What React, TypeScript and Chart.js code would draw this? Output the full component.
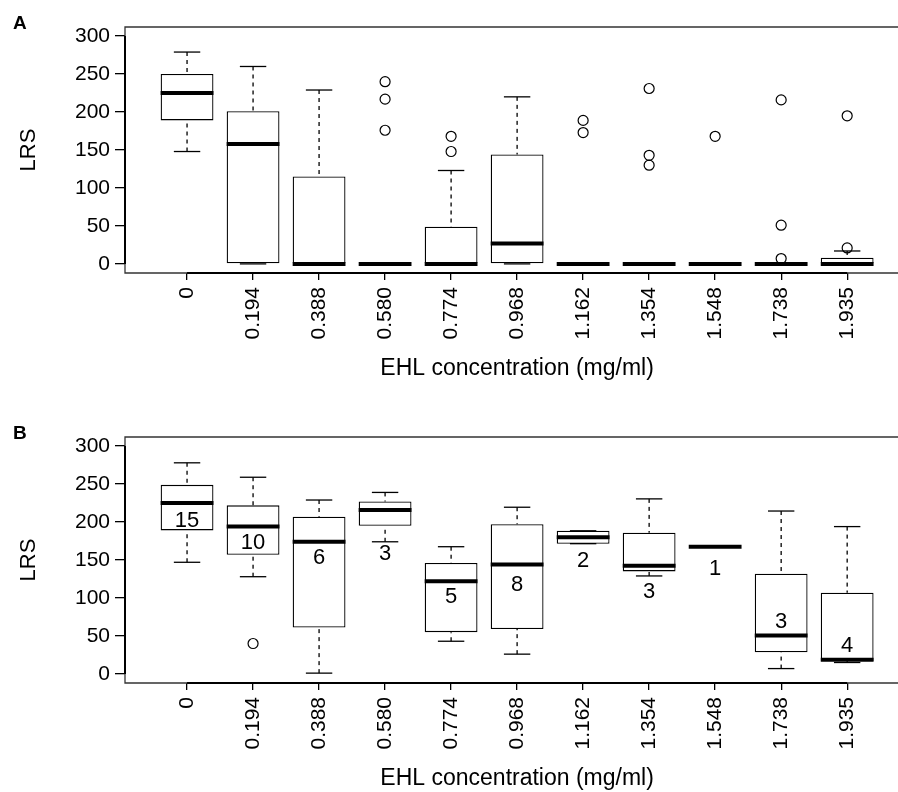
import React, { useEffect, useRef } from 'react';
import { Chart, registerables } from 'chart.js';

Chart.register(...registerables);

// ---------- data ----------
const categories = ['0', '0.194', '0.388', '0.580', '0.774', '0.968', '1.162', '1.354', '1.548', '1.738', '1.935'];
const yTickValues = [0, 50, 100, 150, 200, 250, 300];
const xAxisTitle = 'EHL concentration (mg/ml)';
const yAxisTitle = 'LRS';

// Panel A
const aLowerWhisker = [148, 0, 0, 0, 0, 0, 0, 0, 0, 0, 0];
const aQ1 = [189, 0, 0, 0, 0, 0, 0, 0, 0, 0, 0];
const aMedian = [225, 158, 0, 0, 0, 27, 0, 0, 0, 0, 0];
const aQ3 = [250, 201, 115, 0, 49, 144, 0, 0, 0, 0, 8];
const aUpperWhisker = [279, 260, 229, 0, 123, 220, 0, 0, 0, 0, 17];
const aOutliers: number[][] = [[], [], [], [240, 217, 176], [168, 148], [], [189, 173], [231, 143, 130], [168], [216, 51, 7], [195, 21]];

// Panel B
const bLowerWhisker = [147, 128, 1, 174, 43, 26, 171.5, 129, 167.5, 7, 15];
const bQ1 = [189, 157, 61, 195, 55, 59, 171.5, 135, 167.5, 28.5, 17];
const bMedian = [225, 194, 174, 216, 122, 144, 180, 142.5, 167.5, 50.5, 18.5];
const bQ3 = [249, 222, 207, 227, 146, 197, 188.5, 186, 167.5, 132, 107];
const bUpperWhisker = [278, 259, 229, 239, 167.5, 219.5, 188.5, 230.5, 167.5, 214.5, 194];
const bOutliers: number[][] = [[], [40], [], [], [], [], [], [], [], [], []];
const bCounts = ['15', '10', '6', '3', '5', '8', '2', '3', '1', '3', '4'];
const bCountY = [202, 172, 153, 158, 102, 117, 148.5, 108, 138.5, 68.5, 37];

// ---------- styling ----------
const FONT = '"Liberation Sans", Arial, Helvetica, sans-serif';

type PanelData = {
  letter: string;
  lower: number[];
  q1: number[];
  median: number[];
  q3: number[];
  upper: number[];
  outliers: number[][];
  counts?: string[];
  countY?: number[];
};

const panelA: PanelData = {
  letter: 'A', lower: aLowerWhisker, q1: aQ1, median: aMedian, q3: aQ3, upper: aUpperWhisker, outliers: aOutliers,
};
const panelB: PanelData = {
  letter: 'B', lower: bLowerWhisker, q1: bQ1, median: bMedian, q3: bQ3, upper: bUpperWhisker, outliers: bOutliers,
  counts: bCounts, countY: bCountY,
};

function line(ctx: CanvasRenderingContext2D, x1: number, y1: number, x2: number, y2: number) {
  ctx.beginPath();
  ctx.moveTo(x1, y1);
  ctx.lineTo(x2, y2);
  ctx.stroke();
}

function makeConfig(p: PanelData, height: number): any {
  const boxData = categories.map((_, i) => ({ x: i + 1, y: [p.q1[i], p.q3[i]] }));
  const outlierData = p.outliers.flatMap((vals, i) => vals.map((v) => ({ x: i + 1, y: v })));

  const extras = {
    id: 'boxExtras',
    afterDatasetsDraw(chart: any) {
      const { ctx } = chart;
      const ys = chart.scales.y;
      const meta = chart.getDatasetMeta(0);
      ctx.save();
      ctx.strokeStyle = '#000';
      ctx.lineCap = 'butt';
      meta.data.forEach((el: any, i: number) => {
        const { x: cx, width } = el.getProps(['x', 'width'], true);
        const half = width / 2;
        const capHalf = width / 4;
        const yLo = ys.getPixelForValue(p.lower[i]);
        const yQ1 = ys.getPixelForValue(p.q1[i]);
        const yMed = ys.getPixelForValue(p.median[i]);
        const yQ3 = ys.getPixelForValue(p.q3[i]);
        const yUp = ys.getPixelForValue(p.upper[i]);
        ctx.lineWidth = 1.3;
        ctx.setLineDash([4, 4]);
        if (p.upper[i] > p.q3[i]) line(ctx, cx, yUp, cx, yQ3);
        if (p.lower[i] < p.q1[i]) line(ctx, cx, yLo, cx, yQ1);
        ctx.setLineDash([]);
        line(ctx, cx - capHalf, yUp, cx + capHalf, yUp);
        line(ctx, cx - capHalf, yLo, cx + capHalf, yLo);
        ctx.lineWidth = 4;
        line(ctx, cx - half, yMed, cx + half, yMed);
      });
      if (p.counts && p.countY) {
        ctx.fillStyle = '#000';
        ctx.font = `22px ${FONT}`;
        ctx.textAlign = 'center';
        ctx.textBaseline = 'middle';
        meta.data.forEach((el: any, i: number) => {
          const { x: cx } = el.getProps(['x'], true);
          ctx.fillText(p.counts![i], cx, ys.getPixelForValue(p.countY![i]));
        });
      }
      ctx.restore();
    },
    afterDraw(chart: any) {
      const { ctx, chartArea } = chart;
      const xs = chart.scales.x;
      const ys = chart.scales.y;
      const { left, top, bottom } = chartArea;
      ctx.save();
      // plot frame (right side lies outside the picture)
      ctx.strokeStyle = '#333';
      ctx.lineWidth = 1.3;
      ctx.beginPath();
      ctx.moveTo(chart.width, top);
      ctx.lineTo(left, top);
      ctx.lineTo(left, bottom);
      ctx.lineTo(chart.width, bottom);
      ctx.stroke();
      // axis lines
      ctx.strokeStyle = '#000';
      ctx.lineWidth = 2;
      line(ctx, xs.getPixelForValue(1), bottom, xs.getPixelForValue(categories.length), bottom);
      line(ctx, left, ys.getPixelForValue(yTickValues[0]), left, ys.getPixelForValue(yTickValues[yTickValues.length - 1]));
      // x axis title, centred on the full plot region
      ctx.fillStyle = '#000';
      ctx.font = `23px ${FONT}`;
      ctx.textAlign = 'center';
      ctx.textBaseline = 'alphabetic';
      ctx.fillText(xAxisTitle, xs.getPixelForValue((categories.length + 1) / 2), 375);
      // panel letter
      ctx.font = `bold 19px ${FONT}`;
      ctx.textAlign = 'left';
      ctx.fillText(p.letter, 13, 29);
      ctx.restore();
    },
  };

  return {
    type: 'bar',
    data: {
      datasets: [
        {
          type: 'bar',
          data: boxData,
          backgroundColor: '#fff',
          borderColor: '#000',
          borderWidth: 1.3,
          borderSkipped: false,
          barPercentage: 0.8,
          categoryPercentage: 1,
          order: 2,
        },
        {
          type: 'scatter',
          data: outlierData,
          pointStyle: 'circle',
          pointRadius: 5,
          pointBorderWidth: 1.2,
          borderColor: '#000',
          backgroundColor: 'rgba(0,0,0,0)',
          clip: false,
          order: 1,
        },
      ],
    },
    options: {
      animation: false,
      responsive: false,
      events: [],
      layout: { autoPadding: false, padding: { top: 27, left: 0, right: 0, bottom: 0 } },
      plugins: { legend: { display: false }, tooltip: { enabled: false }, title: { display: false } },
      scales: {
        x: {
          type: 'linear',
          bounds: 'data',
          offset: false,
          min: 0.06,
          max: 11.77,
          afterBuildTicks: (s: any) => {
            s.ticks = categories.map((_, i) => ({ value: i + 1 }));
          },
          afterFit: (s: any) => {
            s.height = height - 273;
            s.paddingLeft = 0;
            s.paddingRight = 0;
          },
          ticks: {
            autoSkip: false,
            minRotation: 90,
            maxRotation: 90,
            padding: 7,
            color: '#000',
            font: { family: FONT, size: 21 },
            callback: (_v: any, idx: number) => categories[idx],
          },
          grid: { offset: false, drawOnChartArea: false, drawTicks: true, tickLength: 7, color: '#000', lineWidth: 1.3 },
          border: { display: false },
        },
        y: {
          type: 'linear',
          bounds: 'data',
          min: -12,
          max: 312,
          afterBuildTicks: (s: any) => {
            s.ticks = yTickValues.map((v) => ({ value: v }));
          },
          afterFit: (s: any) => {
            s.width = 125;
            s.paddingTop = 0;
            s.paddingBottom = 0;
          },
          ticks: {
            padding: 5,
            color: '#000',
            font: { family: FONT, size: 21 },
            callback: (v: any) => String(v),
          },
          grid: { drawOnChartArea: false, drawTicks: true, tickLength: 10, color: '#000', lineWidth: 1.3 },
          border: { display: false },
          title: {
            display: true,
            text: yAxisTitle,
            color: '#000',
            font: { family: FONT, size: 22 },
            padding: { top: 16, bottom: 0 },
          },
        },
      },
    },
    plugins: [extras],
  };
}

function BoxPanel({ panel, top, height }: { panel: PanelData; top: number; height: number }) {
  const ref = useRef<HTMLCanvasElement | null>(null);
  useEffect(() => {
    if (!ref.current) return;
    const chart = new Chart(ref.current, makeConfig(panel, height));
    return () => chart.destroy();
  }, [panel, height]);
  return (
    <canvas
      ref={ref}
      width={898}
      height={height}
      style={{ position: 'absolute', left: 0, top, width: 898, height, display: 'block' }}
    />
  );
}

export default function App() {
  return (
    <div
      style={{
        position: 'absolute',
        left: 0,
        top: 0,
        width: 898,
        height: 792,
        overflow: 'hidden',
        background: '#fff',
      }}
    >
      <BoxPanel panel={panelA} top={0} height={410} />
      <BoxPanel panel={panelB} top={410} height={382} />
    </div>
  );
}
